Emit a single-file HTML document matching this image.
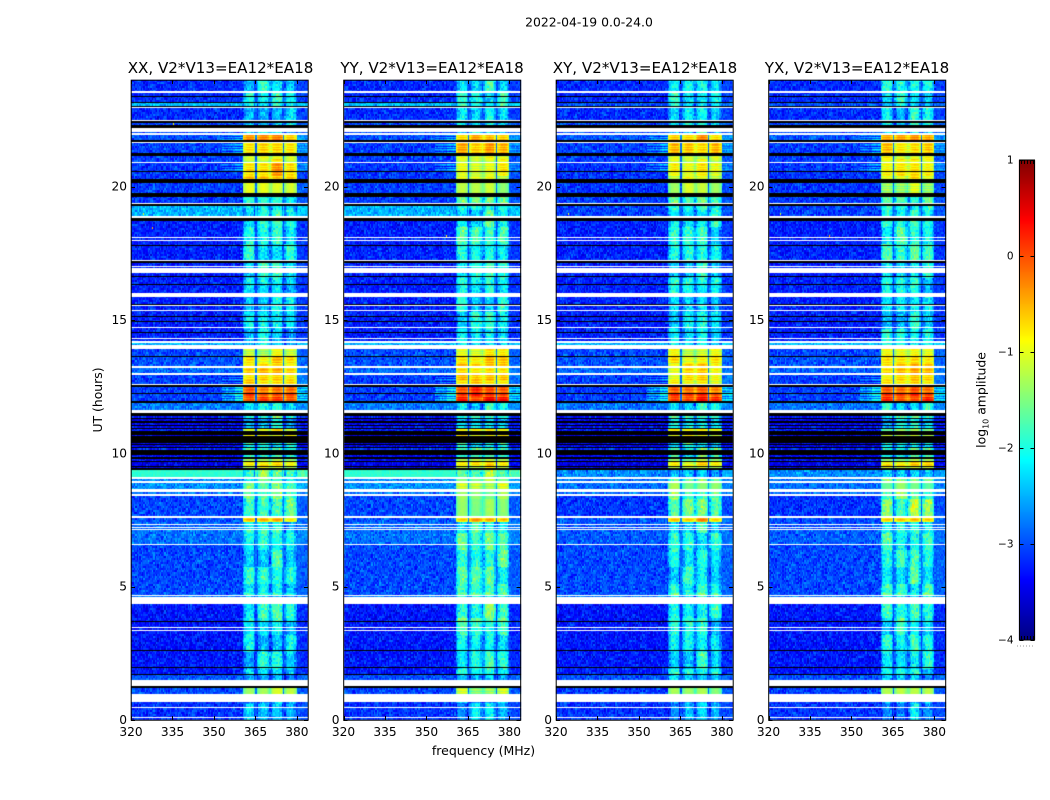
<!DOCTYPE html>
<html lang="en">
<head>
<meta charset="utf-8">
<title>2022-04-19 0.0-24.0</title>
<style>
html,body{margin:0;padding:0;background:#fff;}
#figure{position:relative;width:1050px;height:800px;overflow:hidden;background:#fff;}
#heat{position:absolute;left:0;top:0;}
#overlay{position:absolute;left:0;top:0;}
text{font-family:"DejaVu Sans","Liberation Sans",sans-serif;fill:#000;}
</style>
</head>
<body>
<div id="figure">
<canvas id="heat" width="1050" height="800"></canvas>
<svg id="overlay" width="1050" height="800" viewBox="0 0 1050 800">
  <text x="589" y="26.5" text-anchor="middle" font-size="12.4">2022-04-19 0.0-24.0</text>
  <text x="220.5" y="73" text-anchor="middle" font-size="15.1">XX, V2*V13=EA12*EA18</text>
  <text x="432" y="73" text-anchor="middle" font-size="15.1">YY, V2*V13=EA12*EA18</text>
  <text x="645" y="73" text-anchor="middle" font-size="15.1">XY, V2*V13=EA12*EA18</text>
  <text x="857" y="73" text-anchor="middle" font-size="15.1">YX, V2*V13=EA12*EA18</text>
  <text x="483.5" y="755" text-anchor="middle" font-size="12.5">frequency (MHz)</text>
  <text transform="translate(102 400) rotate(-90)" text-anchor="middle" font-size="12.4">UT (hours)</text>
  <text transform="translate(985.5 400) rotate(-90)" text-anchor="middle" font-size="12.4">log<tspan font-size="8" dy="3">10</tspan><tspan dy="-3"> amplitude</tspan></text>
  <line x1="1017" y1="646" x2="1035" y2="646" stroke="#999" stroke-width="1" stroke-dasharray="1 2"/>
</svg>
</div>
<script>
/* ---------- categories and tick labels ---------- */
const panelNames = ['xx', 'yy', 'xy', 'yx'];
const xTicks = [320, 335, 350, 365, 380];
const yTicks = [0, 5, 10, 15, 20];
const cbarTicks = [1, 0, -1, -2, -3, -4];
const cbarTickLabels = ['1', '0', '\u22121', '\u22122', '\u22123', '\u22124'];

/* ---------- frequency structure (MHz) ---------- */
const blockStart = [360.6, 365.7, 370.6, 375.7];
const blockEnd = [365.2, 370.3, 375.2, 380.0];
const blockShape = [-0.28, -0.06, 0.08, 0.14, 0.18, 0.18, 0.14, 0.08, -0.06, -0.28];
const blockOffsetXX = [-0.04, 0.0, 0.08, -0.06];
const blockOffsetYY = [0.0, -0.04, 0.08, 0.02];
const blockOffsetXY = [0.0, -0.04, 0.1, -0.06];
const blockOffsetYX = [-0.02, -0.04, 0.06, 0.0];

/* ---------- time epochs: upper UT edge and log10 amplitude levels ---------- */
const epochEnd = [0.68,1.24,1.73,3.69,4.35,4.69,4.75,6.60,7.13,7.44,7.56,8.41,8.56,8.88,9.10,9.375,9.50,9.68,9.80,9.94,10.19,10.30,10.40,10.70,10.92,11.03,11.15,11.28,11.40,11.90,12.21,12.50,12.94,13.21,13.62,13.90,14.07,14.13,16.35,17.14,18.71,18.90,19.275,19.62,20.13,20.56,20.88,21.15,21.65,21.92,22.40,22.95,23.15,24];
const bgParallel = [-3.15,-3.05,-3.0,-3.3,-3.3,-2.8,-3.0,-3.05,-2.85,-2.9,-3.0,-3.05,-2.8,-2.7,-2.7,-1.9,-3.5,-3.5,-3.4,-3.4,-3.2,-3.5,-3.5,-3.5,-3.3,-3.4,-3.4,-3.5,-3.3,-2.8,-3.1,-3.1,-3.1,-2.9,-3.0,-3.05,-3.0,-2.5,-3.25,-3.25,-3.25,-3.2,-2.5,-3.1,-3.1,-3.15,-3.15,-3.1,-3.1,-3.0,-3.05,-3.2,-2.45,-3.2];
const bgCross = [-3.15,-3.1,-3.0,-3.3,-3.3,-2.8,-3.0,-3.05,-2.95,-3.0,-3.0,-3.15,-2.9,-2.85,-2.85,-2.7,-3.5,-3.5,-3.4,-3.4,-3.2,-3.5,-3.5,-3.5,-3.3,-3.4,-3.4,-3.5,-3.3,-2.85,-3.1,-3.1,-3.1,-2.9,-3.0,-3.05,-3.0,-2.5,-3.25,-3.25,-3.25,-3.2,-3.1,-3.1,-3.15,-3.15,-3.15,-3.1,-3.1,-3.0,-3.05,-3.2,-3.0,-3.2];
const shoulderLevel = [null,null,null,null,null,null,null,null,null,null,null,null,null,null,null,null,null,null,null,null,null,null,null,null,null,null,null,null,null,null,-2.35,-2.4,-2.95,null,null,null,null,null,null,null,null,null,null,null,null,null,-2.8,null,-2.7,-2.7,null,null,null,null];
const bandXX = [-2.7,-1.35,-2.75,-2.45,-2.2,-2.5,-1.95,-2.3,-2.2,-2.4,-0.6,-1.9,-1.95,-1.9,-2.0,-1.8,-1.2,-0.8,-1.45,-2.1,-2.0,-2.4,-2.2,-0.9,-0.95,-2.4,-2.4,-2.6,-2.1,-2.35,-0.15,-0.3,-0.65,-0.5,-0.75,-1.15,-2.5,-2.4,-2.45,-2.3,-2.25,-2.5,-2.3,-2.0,-1.25,-0.6,-0.55,-0.95,-0.7,-0.35,-2.5,-2.55,-2.4,-2.35];
const bandYY = [-2.65,-1.2,-2.7,-2.25,-1.95,-2.3,-1.8,-2.05,-2.0,-2.2,-0.5,-1.55,-1.6,-1.15,-1.5,-1.7,-1.15,-0.8,-1.4,-2.1,-2.0,-2.4,-2.2,-0.85,-0.9,-2.4,-2.4,-2.6,-2.1,-2.4,0.05,-0.05,-0.6,-0.8,-0.65,-0.9,-2.5,-2.4,-2.35,-2.25,-2.15,-2.5,-2.2,-1.8,-1.4,-1.0,-0.9,-1.0,-0.55,-0.5,-2.45,-2.45,-2.3,-2.3];
const bandXY = [-2.75,-1.4,-2.7,-2.35,-2.2,-2.5,-2.0,-2.3,-2.25,-2.3,-0.5,-1.9,-1.9,-1.55,-1.8,-2.6,-1.3,-0.85,-1.6,-2.1,-2.0,-2.4,-2.2,-0.9,-0.95,-2.4,-2.4,-2.6,-2.1,-2.3,0.0,-0.25,-0.8,-0.8,-0.8,-1.0,-2.5,-2.4,-2.45,-2.35,-2.25,-2.5,-2.3,-2.0,-1.3,-0.95,-0.85,-1.05,-0.6,-0.5,-2.4,-2.5,-2.4,-2.3];
const bandYX = [-2.7,-1.35,-2.7,-2.3,-2.1,-2.4,-1.9,-2.2,-2.1,-2.3,-0.6,-1.75,-1.8,-1.6,-1.8,-2.6,-1.2,-0.75,-1.5,-2.1,-2.0,-2.4,-2.25,-1.1,-1.6,-2.4,-2.4,-2.6,-2.1,-2.3,-0.05,-0.25,-0.7,-0.55,-0.65,-0.85,-2.5,-2.4,-2.4,-2.3,-2.1,-2.5,-2.25,-2.0,-1.2,-0.8,-0.85,-0.9,-0.65,-0.35,-2.4,-2.45,-2.4,-2.3];

/* ---------- flagged time ranges (UT hours) ---------- */
const maskedStart = [0.06,0.46,0.66,1.275,3.33,3.44,4.34,4.65,6.57,7.125,7.20,7.30,7.56,8.41,8.56,8.88,9.04,11.50,12.55,12.94,13.21,13.90,14.13,14.28,14.70,15.34,15.54,15.85,15.95,16.77,16.98,17.20,17.96,18.06,18.84,19.35,20.88,21.65,21.93,22.04,22.45,22.95,23.51];
const maskedEnd = [0.11,0.50,0.99,1.50,3.39,3.49,4.61,4.69,6.60,7.16,7.25,7.35,7.65,8.475,8.66,8.96,9.10,11.64,12.59,13.00,13.26,14.07,14.20,14.325,14.75,15.39,15.57,15.93,16.01,16.94,17.025,17.25,18.0,18.12,18.90,19.40,20.91,21.69,22.0,22.2,22.5,23.0,23.59];
const zeroStart = [1.21,1.70,1.95,2.60,3.69,9.375,9.50,9.675,9.80,9.94,10.19,10.30,10.40,10.70,10.92,11.03,11.15,11.28,11.40,11.90,12.21,12.50,13.00,13.62,14.51,14.95,15.12,15.57,16.32,16.62,17.14,17.775,18.71,19.275,19.62,20.13,20.56,21.15,21.69,22.2,22.40,23.0,23.15,23.36];
const zeroEnd = [1.275,1.725,1.98,2.625,3.71,9.44,9.525,9.725,9.85,10.125,10.25,10.35,10.65,10.85,10.96,11.07,11.22,11.325,11.50,11.96,12.25,12.55,13.02,13.66,14.55,14.97,15.15,15.60,16.35,16.65,17.20,17.81,18.84,19.35,19.75,20.28,20.60,21.26,21.75,22.30,22.45,23.025,23.19,23.39];

/* ---------- isolated interference pixels ---------- */
const hotPanel = [0, 0, 0, 1, 2, 3, 2, 3];
const hotFreq = [324.3, 335.2, 327.6, 357.2, 324.3, 324.3, 345.5, 342.0];
const hotUT = [19.0, 22.4, 18.5, 18.2, 19.0, 19.0, 18.1, 18.2];
const hotLevel = [-1.0, -0.9, -0.5, -0.8, -1.0, -1.0, -0.4, -0.4];

/* ---------- fixed grain tables for the speckled noise ---------- */
const speckleA = [0.6,-0.4,0.1,-0.9,0.8,0.2,-0.6,0.4,-0.2,1.0,-0.7,0.3,-0.1,0.7,-1.0,0.5,-0.3,0.0,0.9,-0.5,0.2,-0.8,0.6,-0.2,0.4,-0.6,0.1,0.8,-0.4,-0.9,0.3,0.7,-0.1,0.5,-0.7,1.0,-0.3];
const speckleB = [-0.3,0.8,-0.7,0.2,0.5,-1.0,0.4,0.9,-0.2,-0.5,0.7,0.1,-0.8,0.3,1.0,-0.4,-0.1,0.6,-0.9,0.2,0.8,-0.6,0.0,0.5,-0.3,0.9,-0.7,0.4,-0.2];
const rowStripe = [0.14, -0.12, 0.1, -0.18, 0.04];
const blockDrift = [0.2,-0.15,0.05,-0.3,0.25,0.1,-0.2,-0.05,0.3,-0.25,0.0,0.15,-0.1,0.22,-0.32,0.08,0.18,-0.18,-0.02,0.28,-0.08,0.12,-0.22];

/* ---------- scales ---------- */
const freqMin = 320, freqMax = 384, utMin = 0, utMax = 24;
const frameTop = 80, frameBottom = 720, frameWidth = 177;
const cbarLeft = 1019.5, cbarRight = 1034.5, cbarTop = 160, cbarBottom = 640;
function panelLeft(p) { return 131 + p * 212.5; }
function xScale(freq, p) { return panelLeft(p) + (freq - freqMin) / (freqMax - freqMin) * frameWidth; }
function yScale(ut) { return frameBottom - (ut - utMin) / (utMax - utMin) * (frameBottom - frameTop); }
function cbarScale(v) { return cbarBottom - (v + 4) / 5 * (cbarBottom - cbarTop); }

function jet(t) {
  t = Math.max(0, Math.min(1, t));
  const clip = function (x) { return Math.max(0, Math.min(1, x)); };
  const r = clip(Math.min(4 * t - 1.5, -4 * t + 4.5));
  const g = clip(Math.min(4 * t - 0.5, -4 * t + 3.5));
  const b = clip(Math.min(4 * t + 0.5, -4 * t + 2.5));
  return 'rgb(' + Math.round(r * 255) + ',' + Math.round(g * 255) + ',' + Math.round(b * 255) + ')';
}
function levelColor(v) { return jet((v + 4) / 5); }

const bandByPanel = [bandXX, bandYY, bandXY, bandYX];
const offsetByPanel = [blockOffsetXX, blockOffsetYY, blockOffsetXY, blockOffsetYX];
const bgByPanel = [bgParallel, bgParallel, bgCross, bgCross];

function epochIndex(ut) {
  for (let i = 0; i < epochEnd.length; i++) { if (ut < epochEnd[i]) return i; }
  return epochEnd.length - 1;
}
function channelLevel(freq, ut, p, row) {
  const e = epochIndex(ut);
  const bg = bgByPanel[p][e];
  const band = bandByPanel[p][e];
  const sh = shoulderLevel[e];
  const stripe = rowStripe[row % rowStripe.length];
  for (let k = 0; k < 4; k++) {
    if (freq >= blockStart[k] && freq < blockEnd[k]) {
      const frac = (freq - blockStart[k]) / (blockEnd[k] - blockStart[k]);
      const shape = blockShape[Math.min(9, Math.floor(frac * 10))];
      const drift = blockDrift[(Math.floor(row / 17) + k * 5 + p * 3) % blockDrift.length];
      const quiet = band < -1.6;
      let v = band + offsetByPanel[p][k] + shape * (quiet ? 1.5 : 0.85) + drift * (quiet ? 0.9 : 0.55);
      if (band > -1.25) v += stripe;
      if (band > -1.25 && band < -0.32) v -= 0.15;
      return { v: v, amp: quiet ? 0.42 : 0.08 };
    }
  }
  if (freq >= blockStart[0] && freq < blockEnd[3]) return { v: Math.min(band, bg + 0.2), amp: 0.2 };
  if (freq >= blockEnd[3]) return { v: sh === null ? bg + 0.12 : Math.max(bg + 0.3, sh - 0.2 + stripe * 3), amp: 0.3 };
  if (sh !== null && freq >= 357.5) return { v: sh + stripe * 3, amp: 0.2 };
  if (sh !== null && freq >= 353) return { v: (sh + bg) / 2 + stripe * 2, amp: 0.3 };
  return { v: bg, amp: bg > -2.2 ? 0.12 : 0.42 };
}

/* ---------- draw heatmap cells ---------- */
const ctx = document.getElementById('heat').getContext('2d');
const channelWidth = 0.5;
const rowCount = 640;
for (let p = 0; p < panelNames.length; p++) {
  for (let r = 0; r < rowCount; r++) {
    const utLow = utMin + r * (utMax - utMin) / rowCount;
    const utHigh = utMin + (r + 1) * (utMax - utMin) / rowCount;
    const y0 = Math.round(yScale(utHigh));
    const y1 = Math.round(yScale(utLow));
    const grainRow = (r >> 1) + p * 53;
    for (let c = 0; c < (freqMax - freqMin) / channelWidth; c++) {
      const f0 = freqMin + c * channelWidth;
      const cell = channelLevel(f0 + channelWidth / 2, (utLow + utHigh) / 2, p, r);
      const grainCol = c + p * 19;
      const a = speckleA[(grainCol * grainCol * 3 + grainRow * 7 + grainCol * grainRow) % speckleA.length];
      const b = speckleB[(grainCol * 5 + grainRow * grainRow * 2) % speckleB.length];
      ctx.fillStyle = levelColor(cell.v + (a + b) * 0.55 * cell.amp);
      const x0 = Math.round(xScale(f0, p));
      const x1 = Math.round(xScale(f0 + channelWidth, p));
      ctx.fillRect(x0, y0, x1 - x0, y1 - y0);
    }
  }
  /* interference pixels */
  for (let h = 0; h < hotPanel.length; h++) {
    if (hotPanel[h] !== p) continue;
    ctx.fillStyle = levelColor(hotLevel[h]);
    ctx.fillRect(Math.round(xScale(hotFreq[h], p)), Math.round(yScale(hotUT[h])), 1, 2);
  }
  /* flagged rows: white = masked, black = zero amplitude */
  const drawFlags = function (starts, ends, colour) {
    ctx.fillStyle = colour;
    for (let i = 0; i < starts.length; i++) {
      const top = Math.round(yScale(ends[i]));
      const bottom = Math.max(top + 1, Math.round(yScale(starts[i])));
      const left = Math.round(xScale(freqMin, p));
      ctx.fillRect(left, top, Math.round(xScale(freqMax, p)) - left, bottom - top);
    }
  };
  drawFlags(zeroStart, zeroEnd, '#000');
  drawFlags(maskedStart, maskedEnd, '#fff');
}

/* ---------- colorbar ---------- */
for (let y = cbarTop; y < cbarBottom; y++) {
  const v = -4 + (cbarBottom - y - 0.5) / (cbarBottom - cbarTop) * 5;
  ctx.fillStyle = levelColor(v);
  ctx.fillRect(Math.floor(cbarLeft), y, Math.ceil(cbarRight) - Math.floor(cbarLeft), 1);
}

/* ---------- axes ---------- */
const svg = document.getElementById('overlay');
const NS = 'http://www.w3.org/2000/svg';
function addLine(x1, y1, x2, y2, name) {
  const el = document.createElementNS(NS, 'line');
  el.setAttribute('x1', x1);
  el.setAttribute('y1', y1);
  el.setAttribute('x2', x2);
  el.setAttribute('y2', y2);
  el.setAttribute('stroke', '#000');
  el.setAttribute('stroke-width', '1');
  
  
  svg.appendChild(el);
}
function addText(x, y, anchor, size, str, name) {
  const el = document.createElementNS(NS, 'text');
  el.setAttribute('x', x);
  el.setAttribute('y', y);
  el.setAttribute('text-anchor', anchor);
  el.setAttribute('font-size', size);
  
  
  el.textContent = str;
  svg.appendChild(el);
}
function addFrame(x, y, w, h, name) {
  const el = document.createElementNS(NS, 'rect');
  el.setAttribute('x', x);
  el.setAttribute('y', y);
  el.setAttribute('width', w);
  el.setAttribute('height', h);
  el.setAttribute('fill', 'none');
  el.setAttribute('stroke', '#000');
  el.setAttribute('stroke-width', '1');
  
  
  svg.appendChild(el);
}
for (let p = 0; p < panelNames.length; p++) {
  const pn = panelNames[p];
  const left = panelLeft(p);
  for (let i = 0; i < xTicks.length; i++) {
    const x = Math.round(xScale(xTicks[i], p)) + 0.5;
    addLine(x, frameBottom, x, frameBottom - 4, 'x-tick-' + pn + '-' + xTicks[i]);
    addLine(x, frameTop, x, frameTop + 4, 'x-tick-top-' + pn + '-' + xTicks[i]);
    addText(xScale(xTicks[i], p), 736.2, 'middle', 12.2, String(xTicks[i]), 'x-tick-label-' + pn + '-' + xTicks[i]);
  }
  for (let i = 0; i < yTicks.length; i++) {
    const y = Math.round(yScale(yTicks[i])) + 0.5;
    addLine(left, y, left + 4, y, 'y-tick-' + pn + '-' + yTicks[i]);
    addLine(left + frameWidth, y, left + frameWidth - 4, y, 'y-tick-right-' + pn + '-' + yTicks[i]);
    addText(left - 4, yScale(yTicks[i]) + 4, 'end', 12.2, String(yTicks[i]), 'y-tick-label-' + pn + '-' + yTicks[i]);
  }
  addFrame(left + 0.2, frameTop + 0.2, frameWidth, frameBottom - frameTop, 'panel-frame-' + pn);
}
for (let i = 0; i < cbarTicks.length; i++) {
  const y = Math.round(cbarScale(cbarTicks[i])) + 0.5;
  addLine(cbarLeft, y, cbarLeft + 4, y, 'colorbar-tick-' + i);
  addLine(cbarRight, y, cbarRight - 4, y, 'colorbar-tick-right-' + i);
  addText(1013.5, cbarScale(cbarTicks[i]) + 3.5, 'end', 10.5, cbarTickLabels[i], 'colorbar-tick-label-' + i);
}
for (let x = cbarLeft + 2; x < cbarRight; x += 3) {
  addLine(x, cbarTop, x, cbarTop + 4, 'colorbar-minor-tick-top');
  addLine(x, cbarBottom, x, cbarBottom - 4, 'colorbar-minor-tick-bottom');
}
addFrame(cbarLeft, cbarTop, cbarRight - cbarLeft, cbarBottom - cbarTop, 'colorbar-frame');
</script>
</body>
</html>
